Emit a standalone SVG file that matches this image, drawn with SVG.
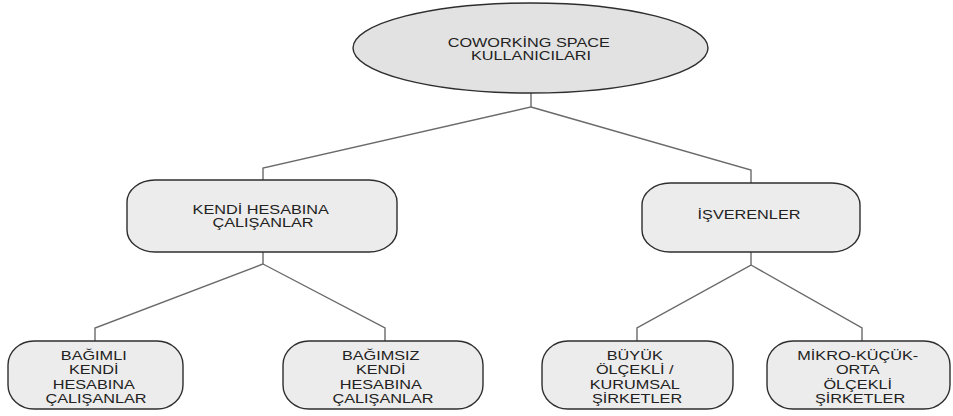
<svg xmlns="http://www.w3.org/2000/svg" width="953" height="416" viewBox="0 0 953 416">
  <style>
    .node { fill: #ececec; stroke: #2e2e2e; stroke-width: 1.4; }
    .root { fill: #e2e2e2; stroke: #2e2e2e; stroke-width: 1.4; }
    .label { font-family: "Liberation Sans", Arial, sans-serif; font-size: 13px; fill: #222; text-anchor: middle; }
    .link { fill: none; stroke: #6a6a6a; stroke-width: 1.4; }
  </style>
  <rect width="953" height="416" fill="#ffffff"/>

  <!-- connectors -->
  <g id="connectors">
    <polyline class="link" points="531,93 531,107 263,168 263,180"/>
    <polyline class="link" points="531,107 751,170 751,183"/>
    <polyline class="link" points="263,252 263,264 95,328 95,341"/>
    <polyline class="link" points="263,264 385,328 385,341"/>
    <polyline class="link" points="751,252 751,265 637,328 637,341"/>
    <polyline class="link" points="751,265 862,328 862,341"/>
  </g>

  <!-- root -->
  <g id="root">
    <ellipse class="root" cx="530.5" cy="48" rx="177.5" ry="45"/>
    <text class="label" transform="translate(531,0) scale(1.25,1)">
      <tspan x="0" y="47">COWORKİNG SPACE</tspan>
      <tspan x="0" y="60">KULLANICILARI</tspan>
    </text>
  </g>

  <!-- second level -->
  <g id="kendi-hesabina">
    <rect class="node" x="127" y="180" width="270" height="72" rx="28" ry="22"/>
    <text class="label" transform="translate(263,0) scale(1.25,1)">
      <tspan x="0" y="214">KENDİ HESABINA</tspan>
      <tspan x="0" y="227">ÇALIŞANLAR</tspan>
    </text>
  </g>

  <g id="isverenler">
    <rect class="node" x="642" y="183" width="218" height="69" rx="28" ry="22"/>
    <text class="label" transform="translate(749,0) scale(1.25,1)">
      <tspan x="0" y="219">İŞVERENLER</tspan>
    </text>
  </g>

  <!-- leaves -->
  <g id="bagimli">
    <rect class="node" x="8" y="341" width="175" height="68" rx="26" ry="24"/>
    <text class="label" transform="translate(96,0) scale(1.25,1)">
      <tspan x="0" y="360">BAĞIMLI</tspan>
      <tspan x="0" y="374.5">KENDİ</tspan>
      <tspan x="0" y="389">HESABINA</tspan>
      <tspan x="0" y="403.5">ÇALIŞANLAR</tspan>
    </text>
  </g>

  <g id="bagimsiz">
    <rect class="node" x="283" y="341" width="200" height="68" rx="26" ry="24"/>
    <text class="label" transform="translate(383,0) scale(1.25,1)">
      <tspan x="0" y="360">BAĞIMSIZ</tspan>
      <tspan x="0" y="374.5">KENDİ</tspan>
      <tspan x="0" y="389">HESABINA</tspan>
      <tspan x="0" y="403.5">ÇALIŞANLAR</tspan>
    </text>
  </g>

  <g id="buyuk">
    <rect class="node" x="542" y="341" width="191" height="68" rx="26" ry="24"/>
    <text class="label" transform="translate(637,0) scale(1.25,1)">
      <tspan x="0" y="360">BÜYÜK</tspan>
      <tspan x="0" y="374.5">ÖLÇEKLİ /</tspan>
      <tspan x="0" y="389">KURUMSAL</tspan>
      <tspan x="0" y="403.5">ŞİRKETLER</tspan>
    </text>
  </g>

  <g id="mikro">
    <rect class="node" x="767" y="341" width="183" height="68" rx="26" ry="24"/>
    <text class="label" transform="translate(860,0) scale(1.25,1)">
      <tspan x="0" y="360">MİKRO-KÜÇÜK-</tspan>
      <tspan x="0" y="374.5">ORTA</tspan>
      <tspan x="0" y="389">ÖLÇEKLİ</tspan>
      <tspan x="0" y="403.5">ŞİRKETLER</tspan>
    </text>
  </g>
</svg>
